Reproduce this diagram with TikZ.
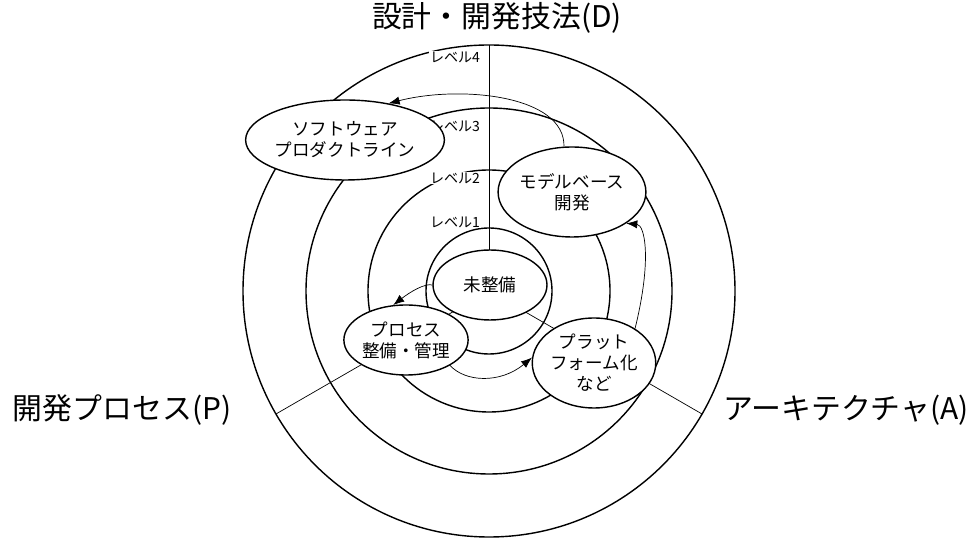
\documentclass[tikz,border=0pt]{standalone}
\usepackage{fontspec}
\setmainfont{Noto Sans CJK JP}
\usetikzlibrary{shapes.geometric,arrows.meta}
\tikzset{
  area/.style={draw, ellipse, fill=white, thick, align=center, inner sep=0pt, font=\fontsize{10}{12}\selectfont},
  level/.style={font=\fontsize{8}{9}\selectfont, fill=white, inner sep=0.5pt},
  axis/.style={font=\fontsize{17}{20}\selectfont},
  flow/.style={-{Latex[length=2.2mm]}, thin}
}
\begin{document}
\begin{tikzpicture}[x=0.02cm, y=-0.02cm]
    \useasboundingbox (0,0) rectangle (980,546);
    \coordinate (O) at (489,291);
    % rings
    \foreach \r in {246,183,121,63}
      \draw[thick] (O) circle [radius=\r];
    % axes
    \draw[thin] (O) -- ++(90:-246) coordinate (top);
    \draw[thin] (O) -- ++(210:-246) coordinate (lft);
    \draw[thin] (O) -- ++(-30:-246) coordinate (rgt);
    % level labels
    \node[level] (l4) at (455,57) {レベル4};
    \node[level] (l3) at (455,126) {レベル3};
    \node[level] (l2) at (455,178) {レベル2};
    \node[level] (l1) at (455,222) {レベル1};
    % axis labels
    \node[axis] (D) at (497,18) {設計・開発技法(D)};
    \node[axis] (P) at (122,410) {開発プロセス(P)};
    \node[axis] (A) at (846,410) {アーキテクチャ(A)};
    % areas
    \node[area, minimum width=114\pgflinewidth*0+2.28cm, minimum height=1.4cm] (none) at (490,285) {未整備};
    \node[area, minimum width=3.28cm, minimum height=1.6cm] (spl) at (345,140) {ソフトウェア\\プロダクトライン};
    \node[area, minimum width=2.8cm, minimum height=1.8cm] (mbd) at (572,192) {モデルベース\\開発};
    \node[area, minimum width=2.32cm, minimum height=1.4cm] (proc) at (406,340) {プロセス\\整備・管理};
    \node[area, minimum width=2.4cm, minimum height=1.8cm] (plat) at (594,363) {プラット\\フォーム化\\など};
    % transitions
    \draw[flow] (mbd.100) .. controls (565,95) and (460,85) .. (spl.40);
    \draw[flow] (plat.40) .. controls (652,260) and (645,225) .. (mbd.-30);
    \draw[flow] (none.west) .. controls (425,283) and (410,292) .. (proc.110);
    \draw[flow] (proc.-30) .. controls (465,382) and (500,384) .. (plat.175);
\end{tikzpicture}
\end{document}
